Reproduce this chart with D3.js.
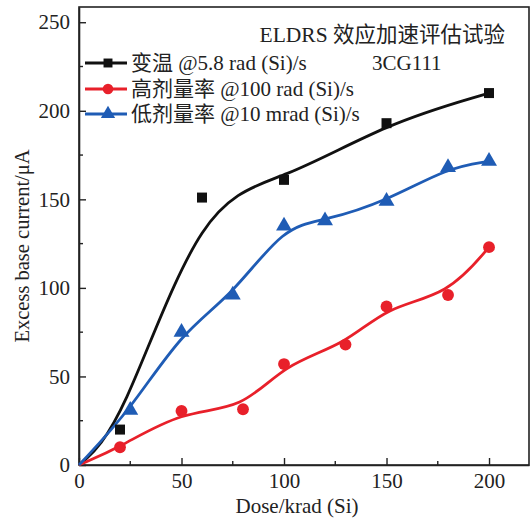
<!DOCTYPE html>
<html><head><meta charset="utf-8">
<script src="https://cdn.jsdelivr.net/npm/d3@7"></script>
<style>body{margin:0;background:#fff}svg{display:block}</style>
</head><body><svg id="c" width="531" height="523"></svg>
<script>
const seriesNames = ["变温 @5.8 rad (Si)/s", "高剂量率 @100 rad (Si)/s", "低剂量率 @10 mrad (Si)/s"];
const doseBlack = [0, 20, 60, 100, 150, 200];
const valBlack  = [0, 20, 151, 161, 193, 210];
const doseRed   = [0, 20, 50, 80, 100, 130, 150, 180, 200];
const valRed    = [0, 10, 30.5, 31.5, 57, 68, 89.5, 96, 123];
const doseBlue  = [0, 25, 50, 75, 100, 120, 150, 180, 200];
const valBlue   = [0, 31, 75, 96, 135, 138, 149, 168, 171.5];
const xTicks = [0, 50, 100, 150, 200];
const yTicks = [0, 50, 100, 150, 200, 250];
const titleText = "ELDRS 效应加速评估试验";
const deviceText = "3CG111";
const xTitle = "Dose/krad (Si)";
const yTitle = "Excess base current/μA";

const colors = ["#111111", "#e8202a", "#1f5cb5"];
const symbols = [d3.symbolSquare, d3.symbolCircle, d3.symbolTriangle];
const symSizes = [100, 110, 110];
const font = "'Liberation Serif','Times New Roman','Noto Sans CJK SC',serif";

const svg = d3.select("#c");
const L = 79, R = 529, T = 7, B = 465;
const x = d3.scaleLinear().domain([0, 219.5]).range([L, R]);
const y = d3.scaleLinear().domain([0, 258.6]).range([B, T]);

svg.append("rect").attr("x", L).attr("y", T).attr("width", R - L).attr("height", B - T)
  .attr("fill", "none").attr("stroke", "#222").attr("stroke-width", 1.6);

const xAxis = d3.axisBottom(x).tickValues(xTicks).tickSizeInner(-7).tickSizeOuter(0).tickPadding(8).tickFormat(d3.format("d"));
const gx = svg.append("g").attr("transform", `translate(0,${B})`).call(xAxis);
const yAxis = d3.axisLeft(y).tickValues(yTicks).tickSizeInner(-7).tickSizeOuter(0).tickPadding(9).tickFormat(d3.format("d"));
const gy = svg.append("g").attr("transform", `translate(${L},0)`).call(yAxis);
[gx, gy].forEach(g => {
  g.select(".domain").attr("stroke", "#222").attr("stroke-width", 1.6);
  g.selectAll(".tick line").attr("stroke", "#222").attr("stroke-width", 1.4);
  g.selectAll(".tick text").attr("font-family", font).attr("font-size", 21).attr("fill", "#222");
});
const xMinor = d3.range(25, 220, 50);
svg.append("g").selectAll("line").data(xMinor).join("line")
  .attr("x1", d => x(d)).attr("x2", d => x(d)).attr("y1", B).attr("y2", B - 4)
  .attr("stroke", "#222").attr("stroke-width", 1.4);
const yMinor = d3.range(25, 258, 50);
svg.append("g").selectAll("line").data(yMinor).join("line")
  .attr("y1", d => y(d)).attr("y2", d => y(d)).attr("x1", L).attr("x2", L + 4)
  .attr("stroke", "#222").attr("stroke-width", 1.4);

svg.append("text").attr("x", 297).attr("y", 513).attr("text-anchor", "middle")
  .attr("font-family", font).attr("font-size", 21).attr("fill", "#222").text(xTitle);
svg.append("text").attr("transform", "translate(29,246) rotate(-90)").attr("text-anchor", "middle")
  .attr("font-family", font).attr("font-size", 20.5).attr("fill", "#222").text(yTitle);

const series = [
  {d: doseBlack, v: valBlack},
  {d: doseRed, v: valRed},
  {d: doseBlue, v: valBlue}
];
const line = d3.line().x(p => x(p[0])).y(p => y(p[1])).curve(d3.curveBasis);
const plot = svg.append("g");
series.forEach((s, i) => {
  const pts = s.d.map((d, k) => [d, s.v[k]]);
  plot.append("path").attr("d", line(pts)).attr("fill", "none")
    .attr("stroke", colors[i]).attr("stroke-width", 2.8);
});
series.forEach((s, i) => {
  const pts = s.d.map((d, k) => [d, s.v[k]]).filter(p => p[0] > 0);
  plot.append("g").selectAll("path").data(pts).join("path")
    .attr("transform", p => `translate(${x(p[0])},${y(p[1])})`)
    .attr("d", d3.symbol().type(symbols[i]).size(symSizes[i]))
    .attr("fill", colors[i]);
});

const legY = [63, 89, 114];
seriesNames.forEach((n, i) => {
  const g = svg.append("g");
  g.append("line").attr("x1", 85).attr("x2", 127).attr("y1", legY[i]).attr("y2", legY[i])
    .attr("stroke", colors[i]).attr("stroke-width", 2.8);
  g.append("path").attr("transform", `translate(108,${legY[i]})`)
    .attr("d", d3.symbol().type(symbols[i]).size(symSizes[i] * 0.8)).attr("fill", colors[i]);
  g.append("text").attr("x", 131).attr("y", legY[i] + 7).attr("font-family", font)
    .attr("font-size", 21).attr("fill", "#222").text(n);
});
svg.append("text").attr("x", 505).attr("y", 42).attr("text-anchor", "end").attr("font-family", font)
  .attr("font-size", 21.5).attr("fill", "#222").text(titleText);
svg.append("text").attr("x", 372).attr("y", 70).attr("font-family", font)
  .attr("font-size", 21).attr("fill", "#222").text(deviceText);
</script></body></html>
